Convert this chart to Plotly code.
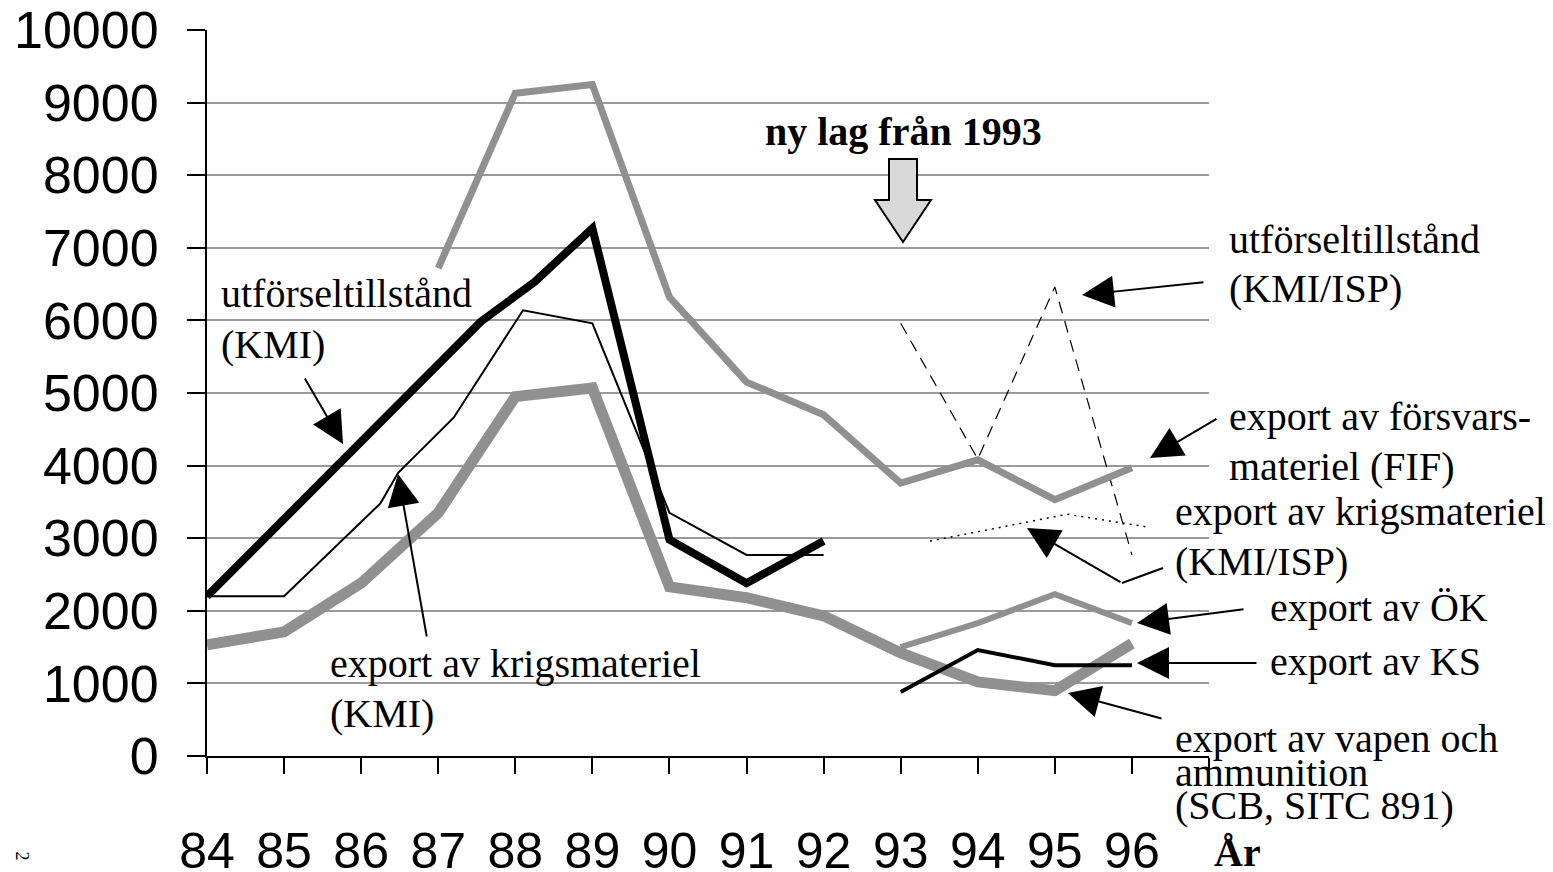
import plotly.graph_objects as go

# ---------------- data ----------------
years = [84, 85, 86, 87, 88, 89, 90, 91, 92, 93, 94, 95, 96, 97]
year_labels = ["84", "85", "86", "87", "88", "89", "90", "91", "92", "93", "94", "95", "96", ""]
y_ticks = [0, 1000, 2000, 3000, 4000, 5000, 6000, 7000, 8000, 9000, 10000]
y_labels = ["0", "1000", "2000", "3000", "4000", "5000", "6000", "7000", "8000", "9000", "10000"]

# utförseltillstånd (KMI) - thick black
utf_kmi_x = [84, 87.55, 88.25, 89, 90, 91, 92]
utf_kmi_y = [2200, 5980, 6530, 7270, 2980, 2380, 2960]

# export av krigsmateriel (KMI) - thin black
exp_kmi_x = [84, 85, 86.25, 86.48, 87.2, 88.1, 89, 90, 91, 92]
exp_kmi_y = [2200, 2200, 3480, 3900, 4660, 6140, 5960, 3350, 2770, 2770]

# export av försvarsmateriel (FIF) - medium grey
fif_x = [87, 88, 89, 90, 91, 92, 93, 94, 95, 96]
fif_y = [6720, 9130, 9250, 6320, 5150, 4700, 3760, 4080, 3530, 3970]

# export av vapen och ammunition (SCB, SITC 891) - thick grey
scb_x = [84, 85, 86, 87, 88, 89, 90, 91, 92, 93, 94, 95, 96]
scb_y = [1530, 1710, 2380, 3350, 4950, 5070, 2330, 2180, 1930, 1420, 1020, 900, 1550]

# export av ÖK - grey
ok_x = [93, 94, 95, 96]
ok_y = [1500, 1830, 2230, 1830]

# export av KS - black
ks_x = [93, 94, 95, 96]
ks_y = [880, 1460, 1250, 1250]

# utförseltillstånd (KMI/ISP) - dashed
utf_isp_x = [93, 94, 95, 96]
utf_isp_y = [5960, 4090, 6460, 2770]

# export av krigsmateriel (KMI/ISP) - dotted
exp_isp_x = [93.38, 95.16, 96.23]
exp_isp_y = [2960, 3330, 3150]

# ---------------- layout helpers ----------------
PAGE_W, PAGE_H = 1553, 872
OFF = 8                            # default body margin of the html page
W, H = PAGE_W - OFF, PAGE_H - OFF
L, R, T, B = 207, 1209, 30, 756    # plot area in page pixels


def P(xp, yp):
    """page pixel position -> paper coordinates (layout elements only)"""
    return (xp - L) / (R - L), (B - yp) / (B - T)


GREY = "#909090"
SERIF = "Liberation Serif, Times New Roman, serif"
SANS = "Liberation Sans, Arial, sans-serif"

fig = go.Figure()


def add_line(x, y, color, width, dash="solid"):
    fig.add_trace(go.Scatter(x=x, y=y, mode="lines",
                             line=dict(color=color, width=width, dash=dash),
                             hoverinfo="skip", showlegend=False))


add_line(utf_isp_x, utf_isp_y, "black", 1.2, "12px,8px")
add_line(exp_isp_x, exp_isp_y, "black", 1.5, "2px,5px")
add_line(fif_x, fif_y, GREY, 7)
add_line(ok_x, ok_y, GREY, 6)
add_line(scb_x, scb_y, GREY, 11)
add_line(exp_kmi_x, exp_kmi_y, "black", 2)
add_line(ks_x, ks_y, "black", 4)
add_line(utf_kmi_x, utf_kmi_y, "black", 8)

annotations = []

# text labels: (text, left x px, baseline y px)
labels = [
    ("utförseltillstånd", 222, 307),
    ("(KMI)", 222, 358),
    ("export av krigsmateriel", 331, 677),
    ("(KMI)", 331, 727),
    ("utförseltillstånd", 1230, 253),
    ("(KMI/ISP)", 1230, 302),
    ("export av försvars-", 1230, 430),
    ("materiel (FIF)", 1230, 480),
    ("export av krigsmateriel", 1176, 525),
    ("(KMI/ISP)", 1176, 575),
    ("export av ÖK", 1271, 621),
    ("export av KS", 1271, 675),
    ("export av vapen och", 1176, 752),
    ("ammunition", 1176, 786),
    ("(SCB, SITC 891)", 1176, 819),
    ("<b>ny lag från 1993</b>", 766, 145),
    ("<b>År</b>", 1215, 866),
]
FS = 40
for txt, xp, yb in labels:
    px, py = P(xp - 2, yb - 0.338 * FS)
    annotations.append(dict(text=txt, x=px, y=py, xref="paper", yref="paper",
                            xanchor="left", yanchor="middle", showarrow=False,
                            font=dict(family=SERIF, size=FS, color="black"),
                            borderpad=0))

# stray page glyph bottom-left
gx, gy = P(10, 862)
annotations.append(dict(text="2", x=gx, y=gy, xref="paper", yref="paper",
                        showarrow=False, textangle=90,
                        font=dict(family=SERIF, size=18, color="black")))

# arrows: tail (px) -> head (px)
arrows = [
    ((304, 377), (343, 444)),
    ((427, 638), (398, 474)),
    ((1205, 282), (1082, 295)),
    ((1218, 418), (1150, 458)),
    ((1122, 583), (1027, 528)),
    ((1245, 609), (1137, 623)),
    ((1258, 663), (1137, 663)),
    ((1163, 719), (1068, 693)),
]
for (tx, ty), (hx, hy) in arrows:
    px, py = P(hx, hy)
    annotations.append(dict(text="", x=px, y=py, xref="paper", yref="paper",
                            ax=tx - hx, ay=ty - hy, showarrow=True,
                            arrowhead=2, arrowsize=3.2, arrowwidth=2,
                            arrowcolor="black", standoff=0))

shapes = []
# bent part of KMI/ISP arrow
a = P(1163, 568)
b = P(1122, 583)
shapes.append(dict(type="line", xref="paper", yref="paper",
                   x0=a[0], y0=a[1], x1=b[0], y1=b[1],
                   line=dict(color="black", width=2)))

# block arrow "ny lag från 1993"
pts = [(889, 159), (917, 159), (917, 200), (931, 200), (903, 242), (875, 200), (889, 200)]
path = "M " + " L ".join("%.5f,%.5f" % P(x, y) for x, y in pts) + " Z"
shapes.append(dict(type="path", xref="paper", yref="paper", path=path,
                   fillcolor="#d9d9d9", line=dict(color="black", width=2)))

fig.update_layout(
    width=W, height=H,
    margin=dict(l=L - OFF, r=W - (R - OFF), t=T - OFF, b=H - (B - OFF), pad=0),
    paper_bgcolor="white", plot_bgcolor="white",
    showlegend=False,
    annotations=annotations,
    shapes=shapes,
    xaxis=dict(range=[84, 97], tickmode="array", tickvals=years, ticktext=year_labels,
               showgrid=False, zeroline=False, showline=True, linecolor="black",
               linewidth=2, ticks="outside", ticklen=16, tickwidth=2, tickcolor="black",
               tickfont=dict(family=SANS, size=50, color="black"),
               ticklabelstandoff=34, ticklabeloverflow="allow", automargin=False),
    yaxis=dict(range=[0, 10000], tickmode="array", tickvals=y_ticks, ticktext=y_labels,
               showgrid=True, gridcolor="#9a9a9a", gridwidth=2,
               zeroline=False, showline=True, linecolor="black", linewidth=2,
               ticks="outside", ticklen=18, tickwidth=2, tickcolor="black",
               tickfont=dict(family=SANS, size=52, color="black"),
               ticklabelstandoff=18, ticklabeloverflow="allow", automargin=False),
)

fig.write_html("out.html")
